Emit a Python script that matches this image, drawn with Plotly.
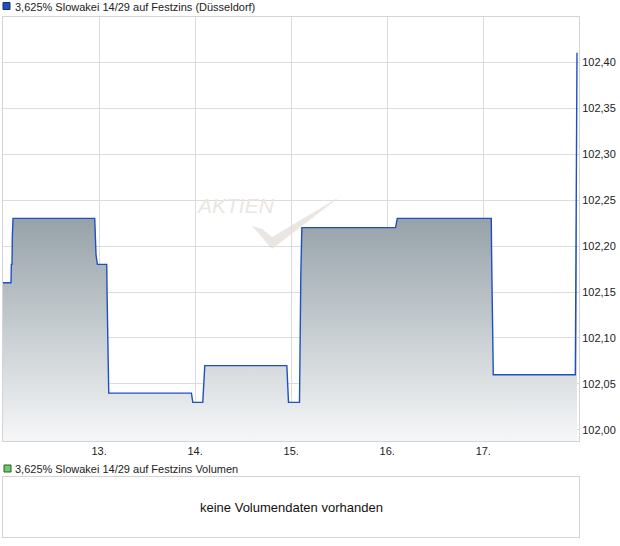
import plotly.graph_objects as go

# ---- data -------------------------------------------------------------
times = [
    "2024-05-12 00:00", "2024-05-12 02:00", "2024-05-12 02:05", "2024-05-12 02:15",
    "2024-05-12 02:20", "2024-05-12 02:30", "2024-05-12 22:55", "2024-05-12 23:00",
    "2024-05-12 23:15", "2024-05-12 23:35",
    "2024-05-13 01:55", "2024-05-13 02:00", "2024-05-13 02:10", "2024-05-13 02:25",
    "2024-05-13 23:05", "2024-05-13 23:15", "2024-05-13 23:25",
    "2024-05-14 01:55", "2024-05-14 02:00", "2024-05-14 02:10", "2024-05-14 02:25",
    "2024-05-14 22:55", "2024-05-14 23:00", "2024-05-14 23:20",
    "2024-05-15 02:05", "2024-05-15 02:10", "2024-05-15 02:25", "2024-05-15 02:40",
    "2024-05-16 02:05", "2024-05-16 02:30",
    "2024-05-17 02:00", "2024-05-17 02:05", "2024-05-17 02:15", "2024-05-17 02:30",
    "2024-05-17 23:00", "2024-05-17 23:05", "2024-05-17 23:10", "2024-05-17 23:25",
]
prices = [
    102.16, 102.16, 102.18, 102.18,
    102.21, 102.23, 102.23, 102.22,
    102.19, 102.18,
    102.18, 102.15, 102.075, 102.04,
    102.04, 102.033, 102.03,
    102.03, 102.04, 102.06, 102.07,
    102.07, 102.062, 102.03,
    102.03, 102.075, 102.17, 102.22,
    102.22, 102.23,
    102.23, 102.19, 102.105, 102.06,
    102.06, 102.15, 102.32, 102.41,
]
x_tick_vals = ["2024-05-13", "2024-05-14", "2024-05-15", "2024-05-16", "2024-05-17"]
x_tick_text = ["13.", "14.", "15.", "16.", "17."]
y_tick_vals = [102.00, 102.05, 102.10, 102.15, 102.20, 102.25, 102.30, 102.35, 102.40]

title_price = "3,625% Slowakei 14/29 auf Festzins (Düsseldorf)"
title_volume = "3,625% Slowakei 14/29 auf Festzins Volumen"
no_volume_text = "keine Volumendaten vorhanden"

# ---- layout helpers (pixel -> paper) ----------------------------------
W, H = 620, 546
L, R, T, B = 3, 41, 17, 9
PW, PH = W - L - R, H - T - B


def px(x):
    return (x - L) / PW


def py(y):
    return (H - B - y) / PH


FONT = "Liberation Sans, Arial, sans-serif"
GRID = "#dcdcdc"
BORDER = "#d4d4d4"

fig = go.Figure()
fig.add_trace(go.Scatter(
    x=times, y=prices, mode="lines",
    line=dict(color="#1f50c2", width=1.4),
    fill="tozeroy",
    fillgradient=dict(type="vertical",
                      colorscale=[[0, "#f5f6f7"], [1, "#96a2a9"]],
                      start=101.99, stop=102.23),
    hoverinfo="skip", showlegend=False,
    xaxis="x", yaxis="y",
))
# empty volume panel (no data available)
fig.add_trace(go.Scatter(x=[], y=[], mode="lines", showlegend=False,
                         hoverinfo="skip", xaxis="x2", yaxis="y2"))

fig.update_layout(
    width=W, height=H,
    margin=dict(l=L, r=R, t=T, b=B),
    paper_bgcolor="white", plot_bgcolor="white",
    separators=",.",
    font=dict(family=FONT, size=11, color="#222"),
    showlegend=False,
    xaxis=dict(
        domain=[0, 1], anchor="y", type="date",
        range=["2024-05-12 00:00", "2024-05-17 23:55"],
        tickvals=x_tick_vals, ticktext=x_tick_text,
        showgrid=True, gridcolor=GRID, gridwidth=1,
        showline=True, mirror=True, linecolor=BORDER, linewidth=1,
        ticks="", zeroline=False, tickfont=dict(size=11, color="#222"),
        fixedrange=True,
    ),
    yaxis=dict(
        domain=[py(441), 1], anchor="x", side="right",
        range=[101.988, 102.449],
        tickvals=y_tick_vals, tickformat=".2f",
        showgrid=True, gridcolor=GRID, gridwidth=1,
        showline=True, mirror=True, linecolor=BORDER, linewidth=1,
        ticks="", zeroline=False, tickfont=dict(size=11, color="#222"),
        fixedrange=True,
    ),
    xaxis2=dict(
        domain=[0, 1], anchor="y2", range=[0, 1],
        showgrid=False, showticklabels=False, zeroline=False,
        showline=True, mirror=True, linecolor=BORDER, linewidth=1, ticks="",
        fixedrange=True,
    ),
    yaxis2=dict(
        domain=[0, py(477)], anchor="x2", range=[0, 1],
        showgrid=False, showticklabels=False, zeroline=False,
        showline=True, mirror=True, linecolor=BORDER, linewidth=1, ticks="",
        fixedrange=True,
    ),
)

# legend squares
fig.add_shape(type="rect", xref="paper", yref="paper",
              x0=px(3), x1=px(10), y0=py(9.5), y1=py(2.5),
              fillcolor="#1f50c2", line=dict(color="#1a2f66", width=1))
fig.add_shape(type="rect", xref="paper", yref="paper",
              x0=px(4), x1=px(11), y0=py(472), y1=py(465),
              fillcolor="#6cc96c", line=dict(color="#2e5a2e", width=1))

# legend texts
fig.add_annotation(text=title_price, xref="paper", yref="paper",
                   x=px(13), y=py(7), xanchor="left", yanchor="middle",
                   showarrow=False, font=dict(size=11, color="#222", family=FONT))
fig.add_annotation(text=title_volume, xref="paper", yref="paper",
                   x=px(13), y=py(468.5), xanchor="left", yanchor="middle",
                   showarrow=False, font=dict(size=11, color="#222", family=FONT))

# no-volume message
fig.add_annotation(text=no_volume_text, xref="x2 domain", yref="y2 domain",
                   x=0.5, y=0.5, xanchor="center", yanchor="middle",
                   showarrow=False, font=dict(size=13, color="#111", family=FONT))

# watermark
fig.add_annotation(text="AKTIEN", xref="paper", yref="paper",
                   x=px(235), y=py(205), xanchor="center", yanchor="middle",
                   showarrow=False,
                   font=dict(size=21, color="#ebe6e1", family=FONT, style="italic"))
chk = [(252, 226), (262, 229), (272, 237), (341, 196), (272, 249)]
path = "M " + " L ".join(f"{px(a):.4f},{py(b):.4f}" for a, b in chk) + " Z"
fig.add_shape(type="path", xref="paper", yref="paper", path=path,
              fillcolor="#ebe6e1", line=dict(width=0), layer="below")

fig.write_html("out.html",
               config={"displayModeBar": False},
               post_script="document.body.style.margin='0';document.body.style.padding='0';")
